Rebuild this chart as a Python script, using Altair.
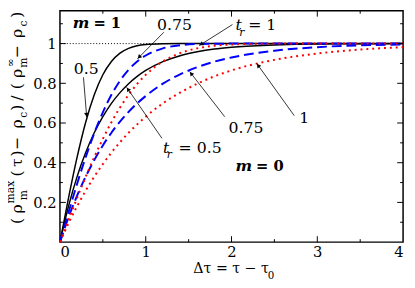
import math
import altair as alt
import pandas as pd

# ---------------- data ----------------
dt = [0, 0.1, 0.2, 0.3, 0.4, 0.5, 0.6, 0.7, 0.8, 0.9, 1.0, 1.2, 1.4, 1.6, 1.8, 2.0, 2.5, 3.0, 3.5, 4.0]

m1_tr050 = [0, 0.223, 0.428, 0.604, 0.742, 0.843, 0.910, 0.952, 0.976, 0.989, 0.995, 0.999, 1.0, 1.0, 1.0, 1.0, 1.0, 1.0, 1.0, 1.0]
m1_tr075 = [0, 0.150, 0.294, 0.428, 0.549, 0.654, 0.742, 0.813, 0.868, 0.910, 0.940, 0.976, 0.992, 0.998, 0.999, 1.0, 1.0, 1.0, 1.0, 1.0]
m1_tr100 = [0, 0.112, 0.223, 0.329, 0.428, 0.520, 0.604, 0.678, 0.742, 0.797, 0.843, 0.910, 0.952, 0.976, 0.989, 0.995, 1.0, 1.0, 1.0, 1.0]

m0_tr050 = [0, 0.181, 0.330, 0.451, 0.551, 0.632, 0.699, 0.753, 0.798, 0.835, 0.865, 0.909, 0.939, 0.959, 0.973, 0.982, 0.993, 0.998, 0.999, 1.0]
m0_tr075 = [0, 0.125, 0.234, 0.330, 0.413, 0.487, 0.551, 0.607, 0.656, 0.699, 0.736, 0.798, 0.845, 0.881, 0.909, 0.930, 0.964, 0.982, 0.991, 0.995]
m0_tr100 = [0, 0.095, 0.181, 0.259, 0.330, 0.393, 0.451, 0.503, 0.551, 0.593, 0.632, 0.699, 0.753, 0.798, 0.835, 0.865, 0.918, 0.950, 0.970, 0.982]

x_major = [0, 1, 2, 3, 4]
x_minor = [0.5, 1.5, 2.5, 3.5]
y_major = [0.2, 0.4, 0.6, 0.8, 1.0]
y_minor = [0.1, 0.3, 0.5, 0.7, 0.9, 1.1]

# annotation arrows: (x_start, y_start, x_tip, y_tip) in data units
arrows = [
    (1.211, 1.057, 0.903, 0.923),
    (2.011, 1.096, 1.623, 0.990),
    (0.274, 0.830, 0.312, 0.629),
    (1.189, 0.523, 0.777, 0.780),
    (1.920, 0.632, 1.512, 0.859),
    (2.731, 0.637, 2.294, 0.900),
]
plain_labels = [("0.75", 1.131, 1.067), ("0.5", 0.160, 0.849), ("0.75", 1.966, 0.548), ("1", 2.789, 0.598),
                ("= 1", 2.194, 1.067), ("= 0.5", 1.383, 0.449)]
t_labels = [("t", 2.046, 1.067), ("t", 1.200, 0.449)]
r_labels = [("r", 2.090, 1.040), ("r", 1.245, 0.422)]
m_labels = [("m", 0.149, 1.081), ("m", 2.046, 0.357)]
eq_labels = [("= 1", 0.390, 1.081), ("= 0", 2.285, 0.357)]

# ---------------- layout ----------------
W, H = 350, 236
YMAX = 236 / 202.5
PX, PY = W / 4.0, H / YMAX
FONT = "DejaVu Serif"

xs = alt.Scale(domain=[0, 4], nice=False, zero=False)
ys = alt.Scale(domain=[0, YMAX], nice=False, zero=False)

x_axis = alt.Axis(values=x_major, format="d", title=None, ticks=False, domain=False, grid=False,
                  labelFont=FONT, labelFontSize=15, labelColor="black", labelPadding=3)
y_axis = alt.Axis(values=y_major, labelExpr="datum.value == 1 ? '1' : format(datum.value, '.1f')",
                  title=None, ticks=False, domain=False, grid=False,
                  labelFont=FONT, labelFontSize=15, labelColor="black", labelPadding=4)


def X(f):
    return alt.X(f, scale=xs, axis=x_axis)


def Y(f):
    return alt.Y(f, scale=ys, axis=y_axis)


def curve(vals, color, dash, width):
    df = pd.DataFrame({"x": dt, "y": vals})
    kw = dict(color=color, strokeWidth=width, interpolate="monotone")
    if dash:
        kw["strokeDash"] = dash
    return alt.Chart(df).mark_line(**kw).encode(x=X("x:Q"), y=Y("y:Q"))


layers = []
layers.append(curve(m1_tr050, "black", None, 1.5))
layers.append(alt.Chart(pd.DataFrame({"y": [1.0]})).mark_rule(color="black", strokeDash=[1, 2], strokeWidth=1)
              .encode(y=Y("y:Q")))
layers.append(curve(m0_tr050, "black", None, 1.5))
layers.append(curve(m1_tr075, "#0000ff", [10, 5], 2))
layers.append(curve(m0_tr075, "#0000ff", [10, 5], 2))
layers.append(curve(m1_tr100, "#ff0000", [2, 4], 2))
layers.append(curve(m0_tr100, "#ff0000", [2, 4], 2))


def xticks(vals, length):
    df = pd.DataFrame({"v": vals})
    bot = alt.Chart(df).mark_rule(color="black", strokeWidth=1).encode(
        x=X("v:Q"), y=alt.value(H), y2=alt.value(H - length))
    top = alt.Chart(df).mark_rule(color="black", strokeWidth=1).encode(
        x=X("v:Q"), y=alt.value(0), y2=alt.value(length))
    return [bot, top]


def yticks(vals, length):
    df = pd.DataFrame({"v": vals})
    left = alt.Chart(df).mark_rule(color="black", strokeWidth=1).encode(
        y=Y("v:Q"), x=alt.value(0), x2=alt.value(length))
    right = alt.Chart(df).mark_rule(color="black", strokeWidth=1).encode(
        y=Y("v:Q"), x=alt.value(W), x2=alt.value(W - length))
    return [left, right]


layers += xticks(x_major[1:-1], 6) + xticks(x_minor, 3) + yticks(y_major, 6) + yticks(y_minor, 3)

arr_df = pd.DataFrame(arrows, columns=["x0", "y0", "x1", "y1"])
layers.append(alt.Chart(arr_df).mark_rule(color="black", strokeWidth=0.8).encode(
    x=X("x0:Q"), y=Y("y0:Q"), x2="x1:Q", y2="y1:Q"))
heads = []
for x0, y0, x1, y1 in arrows:
    dxp = (x1 - x0) * PX
    dyp = -(y1 - y0) * PY
    L = math.hypot(dxp, dyp)
    ang = math.degrees(math.atan2(dxp, -dyp)) % 360
    heads.append({"x": x1 - dxp / L * 2.5 / PX, "y": y1 + dyp / L * 2.5 / PY, "ang": ang})
layers.append(alt.Chart(pd.DataFrame(heads)).mark_point(shape="triangle-up", filled=True, color="black",
                                                          size=22, opacity=1).encode(
    x=X("x:Q"), y=Y("y:Q"), angle=alt.Angle("ang:Q", scale=None)))


def labels(items, size, **kw):
    df = pd.DataFrame(items, columns=["t", "x", "y"])
    return alt.Chart(df).mark_text(align="left", baseline="alphabetic", font=FONT, fontSize=size,
                                   color="black", **kw).encode(x=X("x:Q"), y=Y("y:Q"), text="t:N")


layers.append(labels(plain_labels, 16))
layers.append(labels(t_labels, 16, fontStyle="italic"))
layers.append(labels(r_labels, 11, fontStyle="italic"))
layers.append(labels(m_labels, 16, fontStyle="italic", fontWeight="bold"))
layers.append(labels(eq_labels, 15, fontWeight="bold"))

dummy = pd.DataFrame({"a": [0]})
LEFT, TOP = 61, 8


def piece(s, px, py, size, angle=270, align="center", **kw):
    return alt.Chart(dummy).mark_text(text=s, align=align, baseline="alphabetic", angle=angle, font=FONT,
                                      fontSize=size, color="black", **kw).encode(
        x=alt.value(px - LEFT), y=alt.value(py - TOP))


main_pieces = [("(", 222.5), ("ρ", 210), ("(", 174), ("τ", 163), (")", 153.5), ("−", 143.5),
               ("ρ", 123.5), (")", 107), ("/", 97), ("(", 85),
               ("ρ", 72), ("−", 50), ("ρ", 31), (")", 12)]
sub_pieces = [("m", 196), ("c", 114), ("m", 61), ("c", 21)]
sup_pieces = [("max", 193), ("∞", 61)]
for s, py in main_pieces:
    layers.append(piece(s, 22, py, 16))
for s, py in sub_pieces:
    layers.append(piece(s, 27, py, 11))
for s, py in sup_pieces:
    layers.append(piece(s, 14, py, 11))

layers.append(piece("Δτ = τ − τ", 197, 276, 14.5, angle=0, align="left"))
layers.append(piece("0", 273, 282, 10.5, angle=0, align="left"))

chart = alt.layer(*layers).properties(
    width=W, height=H,
    autosize=alt.AutoSizeParams(type="none"),
    padding={"left": 53, "top": 0, "right": 4, "bottom": 44},
).configure_view(stroke="black", strokeWidth=1.5)

chart.save("out.html", embed_options={"renderer": "svg", "actions": False})
